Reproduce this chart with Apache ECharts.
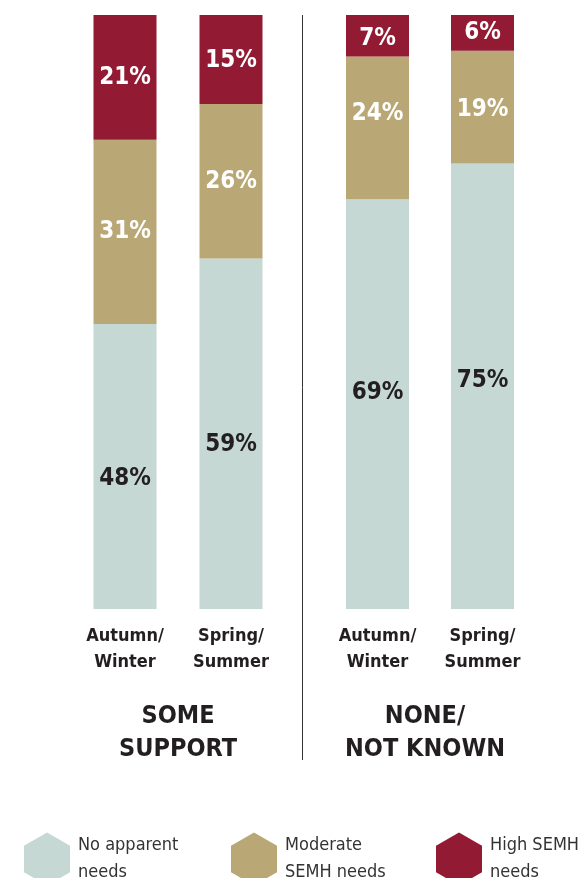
<!DOCTYPE html>
<html>
<head>
<meta charset="utf-8">
<script src="https://cdn.jsdelivr.net/npm/echarts@6/dist/echarts.min.js"></script>
<style>
  html, body { margin: 0; padding: 0; background: #fff; }
  #main { width: 587px; height: 878px; }
</style>
</head>
<body>
<div id="main"></div>
<script>
// categories per group
var categories = ["Autumn/\nWinter", "Spring/\nSummer"];
var groupNames = ["SOME\nSUPPORT", "NONE/\nNOT KNOWN"];
var seriesNames = ["No apparent needs", "Moderate SEMH needs", "High SEMH needs"];
var legendLabels = ["No apparent\nneeds", "Moderate\nSEMH needs", "High SEMH\nneeds"];

// values (%) - some support
var noNeedsSome = [48, 59];
var moderateSome = [31, 26];
var highSome = [21, 15];
// values (%) - none / not known
var noNeedsNone = [69, 75];
var moderateNone = [24, 19];
var highNone = [7, 6];

var colors = ["#c5d8d4", "#b9a876", "#921a33"];
var font = "'Liberation Sans Narrow', 'DejaVu Sans Condensed', 'Roboto', sans-serif";

// labels in the original are not always in the middle of the segment
function makeSeries(name, values, gridIdx, colorIdx, shiftY) {
  return {
    name: name,
    type: "bar",
    stack: "g" + gridIdx,
    xAxisIndex: gridIdx,
    yAxisIndex: gridIdx,
    barWidth: 63,
    itemStyle: { color: colors[colorIdx] },
    label: {
      show: true,
      position: "inside",
      formatter: "{c}%",
      fontFamily: font,
      fontWeight: "bold",
      fontSize: 24,
      color: colorIdx === 0 ? "#231f20" : "#ffffff"
    },
    data: values.map(function (v, i) {
      return { value: v, label: { offset: [0, shiftY[i]] } };
    })
  };
}

// one legend per item so each can sit where the original has it
function makeLegend(i, left) {
  return {
    data: [seriesNames[i]],
    left: left,
    top: 832,
    padding: 0,
    icon: "path://M23,0 L46,13.25 L46,39.75 L23,53 L0,39.75 L0,13.25 Z",
    itemWidth: 46,
    itemHeight: 53,
    selectedMode: false,
    formatter: function () { return legendLabels[i]; },
    textStyle: {
      fontFamily: font,
      fontSize: 18,
      lineHeight: 27,
      color: "#333333",
      padding: [0, 0, 0, 3]
    }
  };
}

var axisLabelStyle = {
  fontFamily: font,
  fontWeight: "bold",
  fontSize: 18,
  lineHeight: 26,
  color: "#231f20",
  margin: 14,
  interval: 0
};

var myChart = echarts.init(document.getElementById("main"));

var option = {
  animation: false,
  grid: [
    { left: 72, width: 212, top: 15, bottom: 269 },
    { left: 325, width: 210, top: 15, bottom: 269 }
  ],
  xAxis: [0, 1].map(function (g) {
    return {
      type: "category",
      gridIndex: g,
      data: categories,
      axisLine: { show: false },
      axisTick: { show: false },
      axisLabel: axisLabelStyle
    };
  }),
  yAxis: [0, 1].map(function (g) {
    return { type: "value", gridIndex: g, min: 0, max: 100, show: false };
  }),
  legend: [makeLegend(0, 24), makeLegend(1, 231), makeLegend(2, 436)],
  graphic: [
    {
      type: "line",
      shape: { x1: 302.5, y1: 15, x2: 302.5, y2: 760 },
      style: { stroke: "#333333", lineWidth: 1 }
    },
    {
      type: "text",
      x: 178,
      y: 700,
      style: {
        text: groupNames[0],
        align: "center",
        font: "bold 25px " + font,
        lineHeight: 33,
        fill: "#231f20"
      }
    },
    {
      type: "text",
      x: 425,
      y: 700,
      style: {
        text: groupNames[1],
        align: "center",
        font: "bold 25px " + font,
        lineHeight: 33,
        fill: "#231f20"
      }
    }
  ],
  series: [
    makeSeries(seriesNames[0], noNeedsSome, 0, 0, [12, 11]),
    makeSeries(seriesNames[1], moderateSome, 0, 1, [0, 0]),
    makeSeries(seriesNames[2], highSome, 0, 2, [0, 1]),
    makeSeries(seriesNames[0], noNeedsNone, 1, 0, [-11, -5]),
    makeSeries(seriesNames[1], moderateNone, 1, 1, [-14, 3]),
    makeSeries(seriesNames[2], highNone, 1, 2, [3, 0])
  ]
};

myChart.setOption(option);
</script>
</body>
</html>
